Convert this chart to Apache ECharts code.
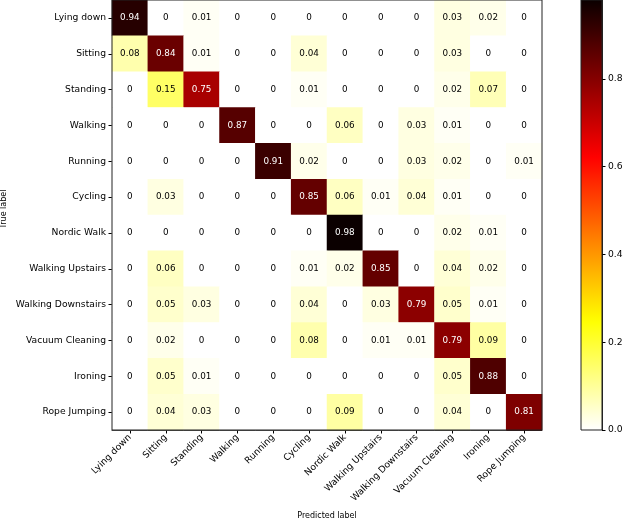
<!DOCTYPE html>
<html>
<head>
<meta charset="utf-8">
<script src="https://cdn.jsdelivr.net/npm/echarts@6/dist/echarts.min.js"></script>
<style>
  html, body { margin: 0; padding: 0; background: #fff; }
  #chart { width: 623px; height: 520px; }
</style>
</head>
<body>
<div id="chart"></div>
<script>
const labels = ['Lying down', 'Sitting', 'Standing', 'Walking', 'Running', 'Cycling',
  'Nordic Walk', 'Walking Upstairs', 'Walking Downstairs', 'Vacuum Cleaning', 'Ironing', 'Rope Jumping'];

// rows = true label, columns = predicted label
const lyingDown         = [0.94, 0, 0.01, 0, 0, 0, 0, 0, 0, 0.03, 0.02, 0];
const sitting           = [0.08, 0.84, 0.01, 0, 0, 0.04, 0, 0, 0, 0.03, 0, 0];
const standing          = [0, 0.15, 0.75, 0, 0, 0.01, 0, 0, 0, 0.02, 0.07, 0];
const walking           = [0, 0, 0, 0.87, 0, 0, 0.06, 0, 0.03, 0.01, 0, 0];
const running           = [0, 0, 0, 0, 0.91, 0.02, 0, 0, 0.03, 0.02, 0, 0.01];
const cycling           = [0, 0.03, 0, 0, 0, 0.85, 0.06, 0.01, 0.04, 0.01, 0, 0];
const nordicWalk        = [0, 0, 0, 0, 0, 0, 0.98, 0, 0, 0.02, 0.01, 0];
const walkingUpstairs   = [0, 0.06, 0, 0, 0, 0.01, 0.02, 0.85, 0, 0.04, 0.02, 0];
const walkingDownstairs = [0, 0.05, 0.03, 0, 0, 0.04, 0, 0.03, 0.79, 0.05, 0.01, 0];
const vacuumCleaning    = [0, 0.02, 0, 0, 0, 0.08, 0, 0.01, 0.01, 0.79, 0.09, 0];
const ironing           = [0, 0.05, 0.01, 0, 0, 0, 0, 0, 0, 0.05, 0.88, 0];
const ropeJumping       = [0, 0.04, 0.03, 0, 0, 0, 0.09, 0, 0, 0.04, 0, 0.81];

const colorbarTicks = [0, 0.2, 0.4, 0.6, 0.8];

const rows = [lyingDown, sitting, standing, walking, running, cycling, nordicWalk,
  walkingUpstairs, walkingDownstairs, vacuumCleaning, ironing, ropeJumping];

let vmax = 0;
rows.forEach(r => r.forEach(v => { if (v > vmax) vmax = v; }));

// matplotlib hot_r colormap
function hotR(t) {
  const x = 1 - t;
  const r = x < 0.365079 ? 0.0416 + (1 - 0.0416) * x / 0.365079 : 1;
  const g = x < 0.365079 ? 0 : (x < 0.746032 ? (x - 0.365079) / (0.746032 - 0.365079) : 1);
  const b = x < 0.746032 ? 0 : (x - 0.746032) / (1 - 0.746032);
  const h = c => Math.round(c * 255);
  return 'rgb(' + h(r) + ',' + h(g) + ',' + h(b) + ')';
}
const nColors = 60;
const cmap = [];
const stops = [];
for (let i = 0; i <= nColors; i++) {
  cmap.push(hotR(i / nColors));
  stops.push({ offset: i / nColors, color: hotR(i / nColors) });
}

const cells = [];
rows.forEach((r, yi) => {
  r.forEach((v, xi) => {
    cells.push({
      value: [xi, yi, v],
      label: { color: v > vmax / 2 ? '#fff' : '#000' }
    });
  });
});

const font = 'DejaVu Sans';
const fs = 9.2;      // tick labels
const cellFs = 8.8;  // numbers in cells
const nameFs = 8;    // axis titles
const chart = echarts.init(document.getElementById('chart'));
chart.setOption({
  animation: false,
  textStyle: { fontFamily: font },
  grid: [
    { left: 112, top: 0, width: 430, height: 430, show: true, borderColor: '#222', borderWidth: 1, z: 10, outerBoundsMode: 'none', containLabel: false },
    { left: 581, top: 0, width: 21, height: 430, show: true, borderColor: '#222', borderWidth: 1, z: 10, outerBoundsMode: 'none', containLabel: false }
  ],
  xAxis: [
    {
      type: 'category', data: labels, gridIndex: 0,
      name: 'Predicted label', nameLocation: 'middle', nameGap: 82, nameMoveOverlap: false,
      nameTextStyle: { fontSize: nameFs, color: '#000', fontFamily: font },
      axisLine: { show: true, lineStyle: { color: '#222', width: 1 } },
      axisTick: { show: true, alignWithLabel: true, length: 3.5, lineStyle: { color: '#000' } },
      axisLabel: { rotate: 45, interval: 0, margin: 6, fontSize: fs, color: '#000', fontFamily: font },
      splitLine: { show: false }
    },
    {
      type: 'category', data: ['cb'], gridIndex: 1, show: false
    }
  ],
  yAxis: [
    {
      type: 'category', data: labels, gridIndex: 0, inverse: true,
      name: 'True label', nameLocation: 'middle', nameGap: 104, nameRotate: 90, nameMoveOverlap: false,
      nameTextStyle: { fontSize: nameFs, color: '#000', fontFamily: font, padding: [0, 0, 0, 12] },
      axisLine: { show: true, lineStyle: { color: '#222', width: 1 } },
      axisTick: { show: true, alignWithLabel: true, length: 3.5, lineStyle: { color: '#000' } },
      axisLabel: { interval: 0, margin: 6, fontSize: fs, color: '#000', fontFamily: font },
      splitLine: { show: false }
    },
    {
      type: 'value', gridIndex: 1, min: 0, max: vmax, position: 'right',
      axisLine: { show: true, lineStyle: { color: '#222', width: 1 } },
      axisTick: { show: true, length: 3.5, lineStyle: { color: '#000' }, customValues: colorbarTicks },
      axisLabel: {
        margin: 6, fontSize: fs, color: '#000', fontFamily: font,
        customValues: colorbarTicks,
        formatter: v => v.toFixed(1)
      },
      splitLine: { show: false }
    }
  ],
  visualMap: {
    show: false, type: 'continuous', seriesIndex: 0, dimension: 2,
    min: 0, max: vmax, inRange: { color: cmap }
  },
  series: [
    {
      type: 'heatmap', xAxisIndex: 0, yAxisIndex: 0, data: cells,
      label: {
        show: true, fontSize: cellFs, fontFamily: font,
        formatter: p => p.value[2] === 0 ? '0' : p.value[2].toFixed(2)
      },
      emphasis: { disabled: true }
    },
    {
      type: 'bar', xAxisIndex: 1, yAxisIndex: 1, data: [vmax], barWidth: '100%',
      itemStyle: { color: new echarts.graphic.LinearGradient(0, 1, 0, 0, stops) },
      silent: true
    }
  ]
});
</script>
</body>
</html>
